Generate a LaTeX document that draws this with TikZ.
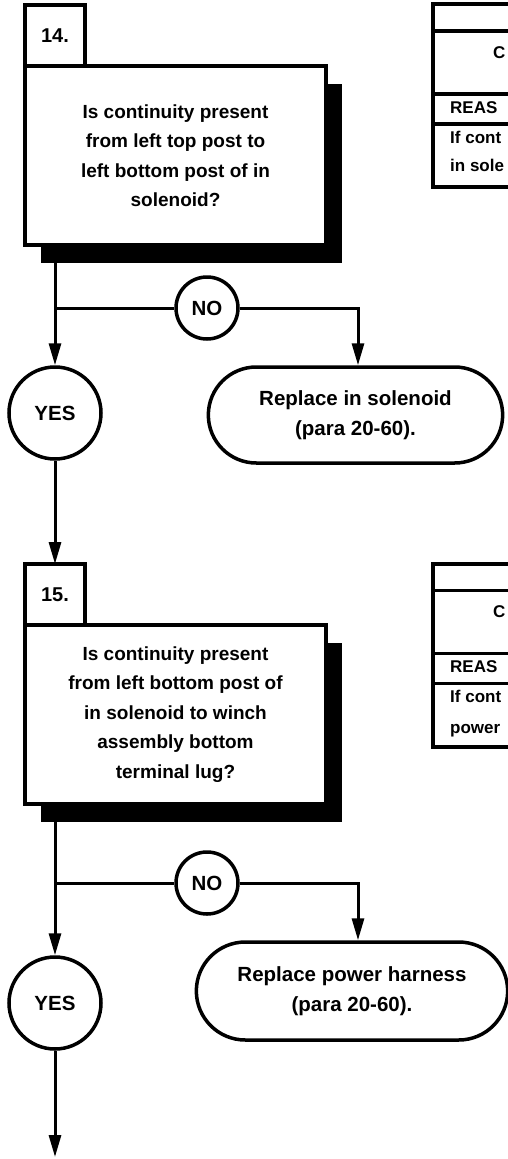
\documentclass[tikz,border=0pt]{standalone}
\usepackage{fontspec}
\setmainfont{Liberation Sans}
\usetikzlibrary{arrows.meta, positioning, shadows, shapes.misc}

\begin{document}
\begin{tikzpicture}[
    >={Triangle[length=22pt, width=12pt]},
    x=1pt, y=1pt,
    num/.style={draw, line width=4pt, minimum width=60pt, minimum height=61pt, inner sep=0pt, font=\fontsize{20}{24}\selectfont\bfseries},
    ques/.style={draw, fill=white, line width=4pt, minimum width=301pt, minimum height=179pt, align=center, font=\fontsize{19}{29.5}\selectfont\bfseries,
                 drop shadow={shadow xshift=16pt, shadow yshift=-18pt, fill=black, opacity=1}},
    yesno/.style={draw, circle, fill=white, line width=3.5pt, inner sep=0pt, font=\fontsize{20.5}{24}\selectfont\bfseries},
    act/.style={draw, rounded rectangle, line width=3.5pt, minimum height=96pt, align=center, font=\fontsize{20.5}{30}\selectfont\bfseries},
    tbl/.style={draw, line width=4pt, minimum width=207pt, minimum height=183pt, inner sep=0pt},
    tdiv/.style={line width=3.5pt},
    ttxt/.style={anchor=base west, inner sep=0pt, font=\fontsize{17}{20}\selectfont\bfseries},
    flow/.style={line width=3pt},
    arr/.style={->, line width=3pt},
  ]
    \useasboundingbox (0,0) rectangle (508,-1159);
    \clip (0,0) rectangle (508,-1159);

    % ===== step 14 =====
    \node[num]  (L1) at (55,-35.5)    {14.};
    \node[ques] (Q1) at (175.5,-155.5) {Is continuity present\\from left top post to\\left bottom post of in\\solenoid?};
    \node[yesno, minimum size=62pt] (N1) at (207,-308) {NO};
    \node[yesno, minimum size=92pt] (Y1) at (55,-413)  {YES};
    \node[act, minimum width=301pt] (R1) at (355.5,-415) {Replace in solenoid\\(para 20-60).};
    % side table (cut off at the edge)
    \node[tbl] (T1) at (536.5,-95.5) {};
    \draw[tdiv] ([yshift=-29pt]T1.north west) -- ([yshift=-29pt]T1.north east);
    \draw[tdiv] ([yshift=-92pt]T1.north west) -- ([yshift=-92pt]T1.north east);
    \draw[tdiv] ([yshift=-122pt]T1.north west) -- ([yshift=-122pt]T1.north east);
    \node[ttxt] (T1c) at (493,-58)  {C};
    \node[ttxt] (T1r) at (450,-113) {REAS};
    \node[ttxt] (T1a) at (450,-143) {If cont};
    \node[ttxt] (T1b) at (450,-171) {in sole};

    \coordinate (j1) at (Y1 |- N1);
    \draw[arr]  (Q1.south -| Y1) -- (Y1.north);     % through the shadow
    \draw[flow] (j1) -- (N1);
    \draw[arr]  (N1) -| ([xshift=2.5pt]R1.north);
    \draw[arr]  (Y1.south) -- (L1.north |- 0,-564);

    % ===== step 15 =====
    \node[num]  (L2) at (55,-594.5)    {15.};
    \node[ques] (Q2) at (175.5,-714.5) {Is continuity present\\from left bottom post of\\in solenoid to winch\\assembly bottom\\terminal lug?};
    \node[yesno, minimum size=62pt] (N2) at (207,-883)  {NO};
    \node[yesno, minimum size=92pt] (Y2) at (55,-1003)  {YES};
    \node[act, minimum width=318pt, minimum height=98pt] (R2) at (352,-991) {Replace power harness\\(para 20-60).};
    % side table (cut off at the edge)
    \node[tbl] (T2) at (536.5,-655) {};
    \draw[tdiv] ([yshift=-29pt]T2.north west) -- ([yshift=-29pt]T2.north east);
    \draw[tdiv] ([yshift=-92pt]T2.north west) -- ([yshift=-92pt]T2.north east);
    \draw[tdiv] ([yshift=-122pt]T2.north west) -- ([yshift=-122pt]T2.north east);
    \node[ttxt] (T2c) at (493,-617) {C};
    \node[ttxt] (T2r) at (450,-672) {REAS};
    \node[ttxt] (T2a) at (450,-702) {If cont};
    \node[ttxt] (T2b) at (450,-733) {power};

    \coordinate (j2)  at (Y2 |- N2);
    \coordinate (out) at (55,-1157);
    \draw[arr]  (Q2.south -| Y2) -- (Y2.north);
    \draw[flow] (j2) -- (N2);
    \draw[arr]  (N2) -| ([xshift=6pt]R2.north);
    \draw[arr]  (Y2.south) -- (out);
\end{tikzpicture}
\end{document}
